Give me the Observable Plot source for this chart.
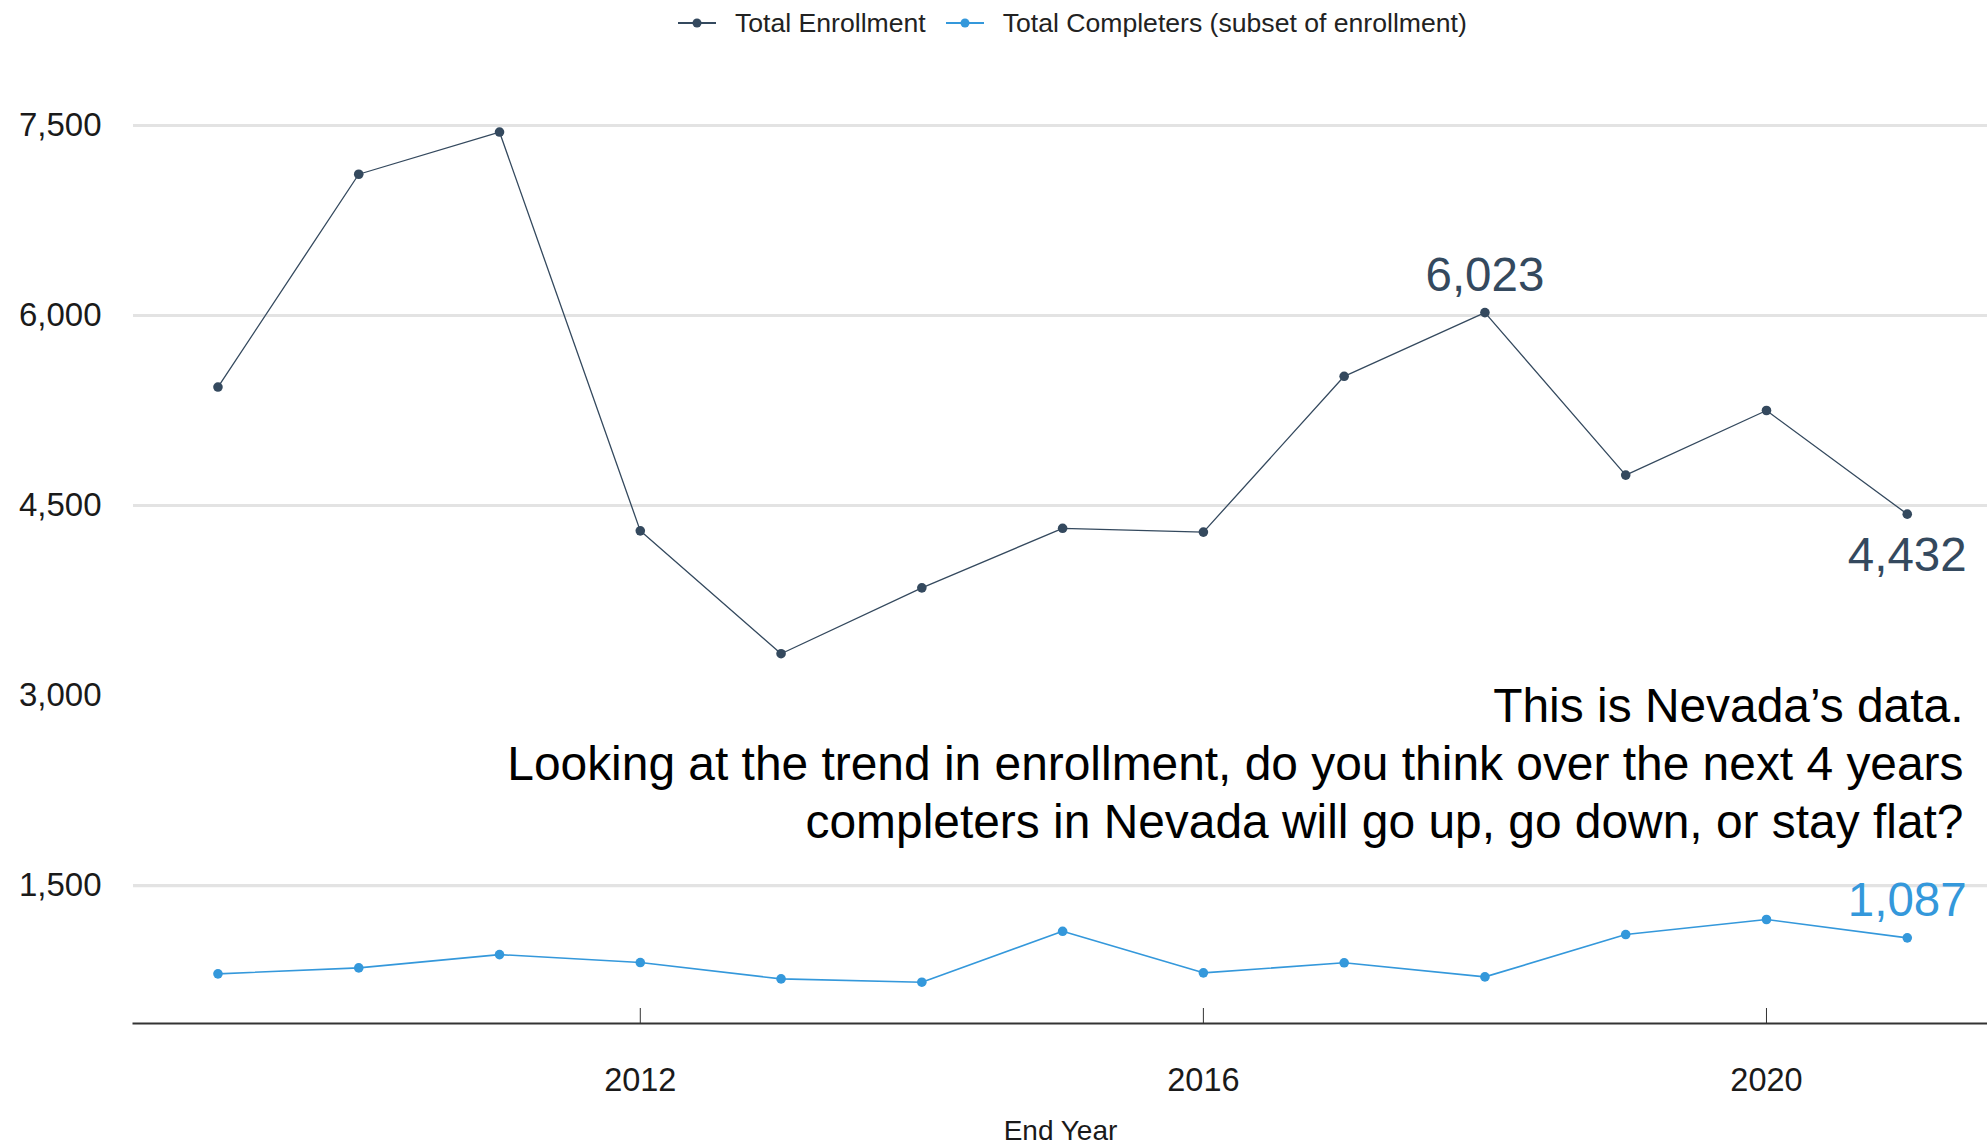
<!DOCTYPE html>
<html>
<head>
<meta charset="utf-8">
<script src="https://cdn.jsdelivr.net/npm/d3@7"></script>
<script src="https://cdn.jsdelivr.net/npm/@observablehq/plot@0.6"></script>
<style>
  html, body { margin: 0; padding: 0; background: #fff; }
  body { width: 1987px; height: 1143px; overflow: hidden; font-family: "Liberation Sans", Arial, sans-serif; }
  #legend { height: 50px; box-sizing: border-box; padding-top: 8px; padding-left: 678px; display: flex; align-items: flex-start; }
  .item { display: flex; align-items: flex-start; height: 30px; }
  .item span { font-size: 26.6px; line-height: 30px; color: #222; margin-left: 19px; margin-right: 20px; white-space: nowrap; }
  .item svg { display: block; }
  #chart svg { display: block; }
</style>
</head>
<body>
<div id="legend"></div>
<div id="chart"></div>
<script>
// ---- data ----
const years = [2009, 2010, 2011, 2012, 2013, 2014, 2015, 2016, 2017, 2018, 2019, 2020, 2021];
const enrollment = [5435, 7115, 7448, 4300, 3330, 3850, 4320, 4290, 5520, 6023, 4740, 5250, 4432];
const completers = [803, 850, 955, 892, 763, 737, 1139, 811, 890, 779, 1113, 1232, 1087];
const seriesNames = ["Total Enrollment", "Total Completers (subset of enrollment)"];
const seriesColors = ["#34495e", "#3498db"];
const yTicks = [1500, 3000, 4500, 6000, 7500];
const gridValues = [1500, 4500, 6000, 7500];
const xTicks = [2012, 2016, 2020];
const enrollLabelAbove = [2018];
const enrollLabelBelow = [2021];
const completerLabelAbove = [2021];
const xTitle = "End Year";
const annotation = "This is Nevada’s data.\nLooking at the trend in enrollment, do you think over the next 4 years\ncompleters in Nevada will go up, go down, or stay flat?";

// ---- tables ----
const enrollRows = years.map((year, i) => ({year, value: enrollment[i]}));
const compRows = years.map((year, i) => ({year, value: completers[i]}));
const fmt = d3.format(",");

// ---- legend ----
const legend = document.getElementById("legend");
seriesNames.forEach((name, i) => {
  const item = document.createElement("div");
  item.className = "item";
  item.innerHTML = `<svg width="38" height="30"><line x1="0" x2="38" y1="15" y2="15" stroke="${seriesColors[i]}" stroke-width="2"/><circle cx="19" cy="15" r="4.5" fill="${seriesColors[i]}"/></svg><span>${name}</span>`;
  legend.appendChild(item);
});

// ---- chart ----
const font = "'Liberation Sans', Arial, sans-serif";
const chart = Plot.plot({
  width: 1987,
  height: 1093,
  marginLeft: 133,
  marginRight: 0,
  marginTop: 20,
  marginBottom: 120,
  style: {fontFamily: font, background: "white", overflow: "visible"},
  x: {domain: [2008.4, 2021.57]},
  y: {domain: [411, 7934]},
  marks: [
    Plot.ruleY(gridValues, {stroke: "#e3e3e3", strokeWidth: 3.2}),
    Plot.frame({anchor: "bottom", stroke: "#333", strokeWidth: 2}),
    Plot.axisY({ticks: yTicks, tickSize: 0, tickPadding: 32, tickFormat: fmt, fontSize: 33, fill: "#1a1a1a", label: null}),
    Plot.axisX({ticks: xTicks, tickSize: -15, tickPadding: 59, tickFormat: d => String(d), fontSize: 32.5, fill: "#1a1a1a", stroke: "#333", label: null}),
    Plot.text([xTitle], {frameAnchor: "bottom", dy: 108, lineAnchor: "middle", fontSize: 28, fill: "#1a1a1a"}),
    Plot.line(enrollRows, {x: "year", y: "value", stroke: seriesColors[0], strokeWidth: 1.3}),
    Plot.dot(enrollRows, {x: "year", y: "value", r: 4.8, fill: seriesColors[0]}),
    Plot.line(compRows, {x: "year", y: "value", stroke: seriesColors[1], strokeWidth: 1.6}),
    Plot.dot(compRows, {x: "year", y: "value", r: 4.8, fill: seriesColors[1]}),
    Plot.text(enrollRows.filter(d => enrollLabelAbove.includes(d.year)), {x: "year", y: "value", text: d => fmt(d.value), dy: -21.6, lineAnchor: "bottom", fontSize: 47.5, fill: seriesColors[0]}),
    Plot.text(enrollRows.filter(d => enrollLabelBelow.includes(d.year)), {x: "year", y: "value", text: d => fmt(d.value), dy: 56.7, lineAnchor: "bottom", fontSize: 47.5, fill: seriesColors[0]}),
    Plot.text(compRows.filter(d => completerLabelAbove.includes(d.year)), {x: "year", y: "value", text: d => fmt(d.value), dy: -21.6, lineAnchor: "bottom", fontSize: 47.5, fill: seriesColors[1]}),
    Plot.text([annotation], {frameAnchor: "top-right", dx: -24, dy: 767.6, textAnchor: "end", lineAnchor: "bottom", lineHeight: 1.21, fontSize: 47.9, fill: "#000"})
  ]
});
document.getElementById("chart").appendChild(chart);
</script>
</body>
</html>
